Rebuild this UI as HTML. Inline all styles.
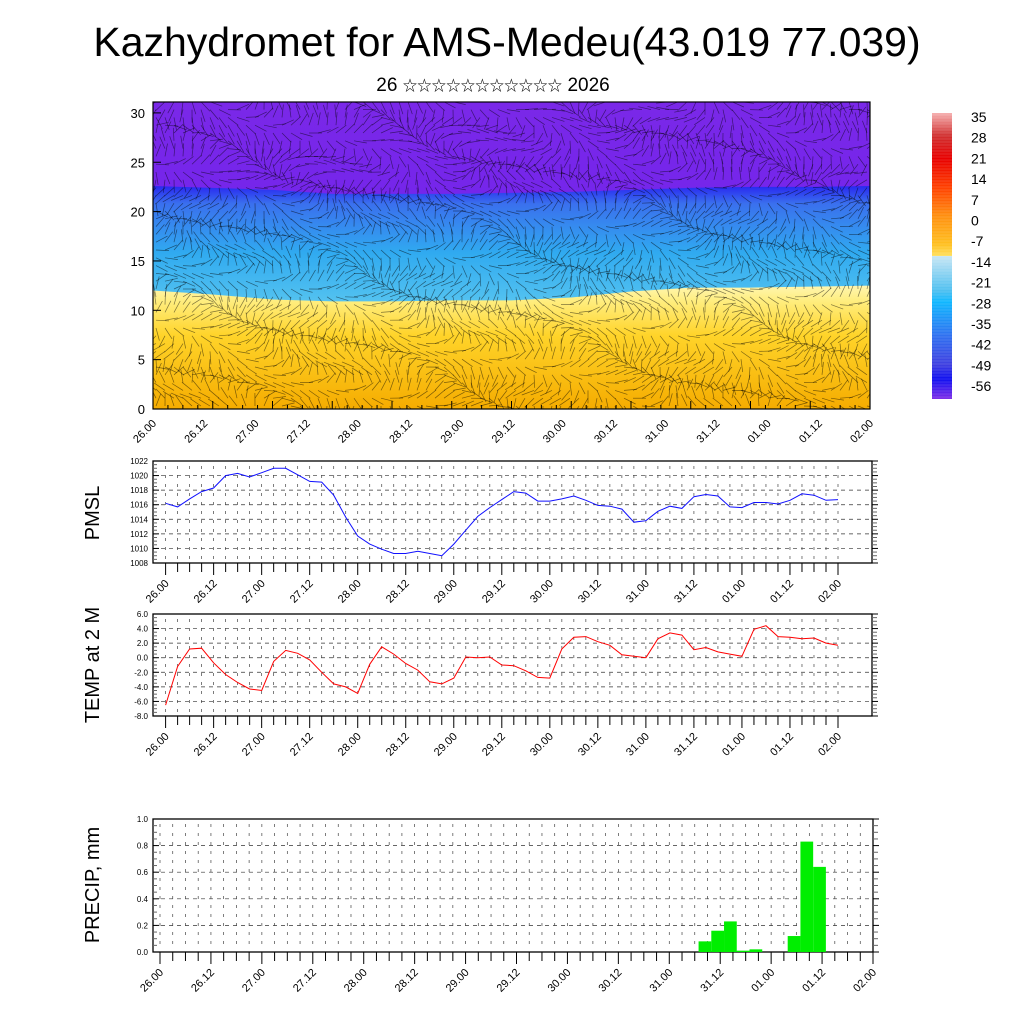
<!DOCTYPE html>
<html><head><meta charset="utf-8"><style>
html,body{margin:0;padding:0;background:#fff;}
svg{display:block;font-family:"Liberation Sans","Noto Sans CJK SC",sans-serif;}
</style></head><body>
<svg id="s" width="1024" height="1024" viewBox="0 0 1024 1024" xmlns="http://www.w3.org/2000/svg">
<defs>
<linearGradient id="gy" x1="0" y1="0" x2="0" y2="1">
<stop offset="0" stop-color="#fff6b0"/><stop offset="0.12" stop-color="#ffee80"/><stop offset="0.4" stop-color="#ffd42a"/><stop offset="1" stop-color="#f5ac00"/></linearGradient>
<linearGradient id="gb" x1="0" y1="0" x2="0" y2="1">
<stop offset="0" stop-color="#2828f0"/><stop offset="0.08" stop-color="#3a70ee"/><stop offset="0.3" stop-color="#30aaf0"/><stop offset="0.5" stop-color="#50c0f0"/><stop offset="0.75" stop-color="#a8dcf2"/><stop offset="1" stop-color="#d4eef8"/></linearGradient>
<linearGradient id="gv" x1="0" y1="0" x2="0" y2="1">
<stop offset="0" stop-color="#7a28e8"/><stop offset="0.7" stop-color="#6e22ee"/><stop offset="1" stop-color="#4a1cf0"/></linearGradient>
<linearGradient id="gc" x1="0" y1="0" x2="0" y2="1">
<stop offset="0" stop-color="#f6b0b0"/><stop offset="0.08" stop-color="#d03030"/><stop offset="0.16" stop-color="#e80000"/><stop offset="0.26" stop-color="#ff4000"/><stop offset="0.36" stop-color="#ff9010"/><stop offset="0.46" stop-color="#ffc020"/><stop offset="0.5" stop-color="#ffe060"/><stop offset="0.5" stop-color="#fffac0"/><stop offset="0.5" stop-color="#c8e6f4"/><stop offset="0.62" stop-color="#50c0f0"/><stop offset="0.66" stop-color="#10b8ff"/><stop offset="0.78" stop-color="#3070f0"/><stop offset="0.88" stop-color="#4040e0"/><stop offset="0.93" stop-color="#1010f0"/><stop offset="1" stop-color="#8030e8"/></linearGradient>
<clipPath id="clipTop"><rect x="153" y="102" width="717" height="307"/></clipPath>
</defs>
<text x="507" y="56" font-size="41" text-anchor="middle">Kazhydromet for AMS-Medeu(43.019 77.039)</text>
<text x="493" y="91" font-size="19" text-anchor="middle">26 <tspan font-size="14.5">☆☆☆☆☆☆☆☆☆☆☆</tspan> 2026</text>
<g id="top"></g>
<g id="cbar"></g>
<g id="pmsl"></g>
<g id="temp"></g>
<g id="prec"></g>
</svg>
<script>
const NS="http://www.w3.org/2000/svg";
const xLabels=["26.00","26.12","27.00","27.12","28.00","28.12","29.00","29.12","30.00","30.12","31.00","31.12","01.00","01.12","02.00"];
const pmslValues=[1016.2,1015.7,1016.8,1017.8,1018.3,1020,1020.3,1019.8,1020.4,1021,1021,1020.1,1019.2,1019.1,1017.3,1014.3,1011.7,1010.6,1009.9,1009.3,1009.3,1009.6,1009.3,1009,1010.6,1012.5,1014.4,1015.6,1016.7,1017.8,1017.6,1016.5,1016.5,1016.8,1017.2,1016.6,1015.9,1015.8,1015.4,1013.6,1013.8,1015.1,1015.8,1015.5,1017.1,1017.4,1017.2,1015.7,1015.6,1016.3,1016.3,1016.1,1016.6,1017.5,1017.3,1016.6,1016.7];
const tempValues=[-6.5,-1.2,1.2,1.3,-0.7,-2.3,-3.4,-4.3,-4.5,-0.5,1.0,0.6,-0.3,-2,-3.6,-4,-4.9,-0.9,1.5,0.5,-0.8,-1.7,-3.3,-3.6,-2.8,0.1,0,0.1,-1,-1.1,-1.8,-2.7,-2.8,1.2,2.8,2.9,2.2,1.7,0.4,0.2,0,2.6,3.4,3.1,1.1,1.4,0.8,0.5,0.2,3.9,4.4,2.9,2.8,2.6,2.7,2.0,1.7];
const precipValues=[0,0,0,0,0,0,0,0,0,0,0,0,0,0,0,0,0,0,0,0,0,0,0,0,0,0,0,0,0,0,0,0,0,0,0,0,0,0,0,0,0,0,0.08,0.16,0.23,0.01,0.02,0,0,0.12,0.83,0.64,0,0,0,0,0];
const pmslTicks=[1008,1010,1012,1014,1016,1018,1020,1022];
const tempTicks=[-8,-6,-4,-2,0,2,4,6];
const precipTicks=[0,0.2,0.4,0.6,0.8,1.0];
const heightTicks=[0,5,10,15,20,25,30];
const cbarLabels=["35","28","21","14","7","0","-7","-14","-21","-28","-35","-42","-49","-56"];
const yellowTop=[12,11.6,11.1,10.9,10.9,11,11,11.3,11.9,12.3,12.3,12.4,12.5];
const blueTop=[22.6,22.4,22.2,21.8,21.8,21.8,21.9,22,22.2,22.4,22.5,22.5,22.6];

function el(tag,attrs,parent,txt){const e=document.createElementNS(NS,tag);for(const k in attrs)e.setAttribute(k,attrs[k]);if(txt!==undefined)e.textContent=txt;parent.appendChild(e);return e;}

function xAxisLabels(g,x0,x1,yTop){
 const n=xLabels.length-1;
 xLabels.forEach((d,i)=>{
  const x=x0+(x1-x0)*i/n;
  const t=el('text',{x:0,y:0,'font-size':11,'text-anchor':'end',transform:`translate(${x+4},${yTop}) rotate(-45)`},g,d);
  
  
 });
}

(function(){
const g=document.getElementById('top');
const X0=153,X1=870,Y0=409,Y1=102;
const xs=t=>X0+(X1-X0)*t/12, ys=h=>Y0-h*9.87;
const fg=el('g',{'clip-path':'url(#clipTop)'},g);
el('rect',{x:X0,y:Y1,width:X1-X0,height:Y0-Y1,fill:'url(#gv)'},fg);
let p="M"+X0+","+Y0;blueTop.forEach((v,i)=>p+=" L"+xs(i)+","+ys(v));p+=" L"+X1+","+Y0+"Z";
const bl=el('path',{d:p,fill:'url(#gb)'},fg);


p="M"+X0+","+Y0;yellowTop.forEach((v,i)=>p+=" L"+xs(i)+","+ys(v));p+=" L"+X1+","+Y0+"Z";
const yl=el('path',{d:p,fill:'url(#gy)'},fg);


const wg=el('g',{stroke:'#000','stroke-opacity':'0.5','stroke-width':'0.7'},fg);
for(let i=0;i<80;i++)for(let j=0;j<40;j++){
 const x=X0+3+i*9,y=Y0-3-j*7.8;
 const a=Math.sin(i*0.23+j*0.61)*1.6+Math.cos(i*0.09-j*0.37)*1.2+(j>29?-0.7:0);
 const L=13;
 el('line',{x1:x,y1:y,x2:(x+L*Math.cos(a)).toFixed(1),y2:(y-L*Math.sin(a)).toFixed(1)},wg);
}
el('rect',{x:X0,y:Y1,width:X1-X0,height:Y0-Y1,fill:'none',stroke:'#000','stroke-width':1.2},g);
heightTicks.forEach(h=>{
 el('line',{x1:X0,y1:ys(h),x2:X0+8,y2:ys(h),stroke:'#000'},g);
 const t=el('text',{x:X0-8,y:ys(h)+5,'font-size':13,'text-anchor':'end'},g,String(h));
 
 
});
for(let i=0;i<=48;i++){el('line',{x1:X0+(X1-X0)*i/48,y1:Y0,x2:X0+(X1-X0)*i/48,y2:Y0-(i%4?4:8),stroke:'#000'},g);}
xAxisLabels(g,153,870,424);
})();

(function(){
const g=document.getElementById('cbar');
el('rect',{x:932,y:113,width:20,height:286,fill:'url(#gc)'},g);
const lg=el('g',{stroke:'#fff','stroke-opacity':'0.25','stroke-width':'0.6'},g);
for(let y=115;y<399;y+=3)el('line',{x1:932,y1:y,x2:952,y2:y},lg);
cbarLabels.forEach((d,i)=>{const t=el('text',{x:971,y:122+i*20.7,'font-size':14},g,d);
 
 });
})();

function panel(id,cfg){
 const g=document.getElementById(id);
 const {X0,X1,Y0,Y1,px0,px1,vmin,vmax,ticks,values,color,title,ty,fmt,lab0,lab1}=cfg;
 const ys=v=>Y0-(v-vmin)/(vmax-vmin)*(Y0-Y1);
 const n=values.length-1;
 const xs=i=>px0+(px1-px0)*i/n;
 const grid=el('g',{stroke:'#333','stroke-width':'0.7','stroke-dasharray':'4,4'},g);
 ticks.forEach(v=>{if(v>vmin&&v<vmax)el('line',{x1:X0,y1:ys(v),x2:X1,y2:ys(v)},grid);});
 const vg=el('g',{stroke:'#444','stroke-width':'0.7','stroke-dasharray':'3,6'},g);
 for(let i=0;i<=n;i++)el('line',{x1:xs(i),y1:Y1+5,x2:xs(i),y2:Y0-3},vg);
 el('rect',{x:X0,y:Y1,width:X1-X0,height:Y0-Y1,fill:'none',stroke:'#000','stroke-width':1.3},g);
 ticks.forEach((v,k)=>{
  el('line',{x1:X0,y1:ys(v),x2:X0+6,y2:ys(v),stroke:'#000'},g);
  el('line',{x1:X1,y1:ys(v),x2:X1+6,y2:ys(v),stroke:'#000'},g);
  if(k<ticks.length-1)for(let m=1;m<4;m++){const vv=v+(ticks[1]-ticks[0])*m/4;
   el('line',{x1:X0,y1:ys(vv),x2:X0+4,y2:ys(vv),stroke:'#666'},g);el('line',{x1:X1,y1:ys(vv),x2:X1+5,y2:ys(vv),stroke:'#666'},g);}
  const t=el('text',{x:X0-5,y:ys(v)+3,'font-size':8,'text-anchor':'end'},g,fmt(v));
  
  
 });
 for(let i=0;i<=n;i++)el('line',{x1:xs(i),y1:Y0,x2:xs(i),y2:Y0+(i%4?9:12),stroke:'#000'},g);
 const yt=el('text',{x:0,y:0,'font-size':20,'text-anchor':'middle',transform:`translate(99,${ty}) rotate(-90)`},g,title);
 
 
 if(cfg.bars){
  values.forEach((v,i)=>{if(v>0){const b=el('rect',{x:xs(i+0.3),y:ys(v),width:xs(1)-xs(0),height:ys(0)-ys(v),fill:'#00ee00'},g);
   
   }});
 }else{
  const pl=el('polyline',{points:values.map((v,i)=>xs(i).toFixed(1)+","+ys(v).toFixed(1)).join(" "),fill:'none',stroke:color,'stroke-width':1},g);
  
  
 }
 xAxisLabels(g,lab0,lab1,Y0+21);
}
panel('pmsl',{X0:153,X1:872,Y0:563,Y1:461,px0:165.6,px1:838,vmin:1008,vmax:1022,ticks:pmslTicks,values:pmslValues,color:'#1010ff',title:'PMSL',ty:513,fmt:v=>String(v),lab0:165.6,lab1:838});
panel('temp',{X0:153,X1:872,Y0:716,Y1:614,px0:165.6,px1:838,vmin:-8,vmax:6,ticks:tempTicks,values:tempValues,color:'#ff0000',title:'TEMP at 2 M',ty:665,fmt:v=>v.toFixed(1),lab0:165.6,lab1:838});
panel('prec',{X0:153,X1:873,Y0:952,Y1:819,px0:160,px1:873,vmin:0,vmax:1,ticks:precipTicks,values:precipValues,bars:true,title:'PRECIP, mm',ty:885,fmt:v=>v.toFixed(1),lab0:160,lab1:873});
</script>
</body></html>
